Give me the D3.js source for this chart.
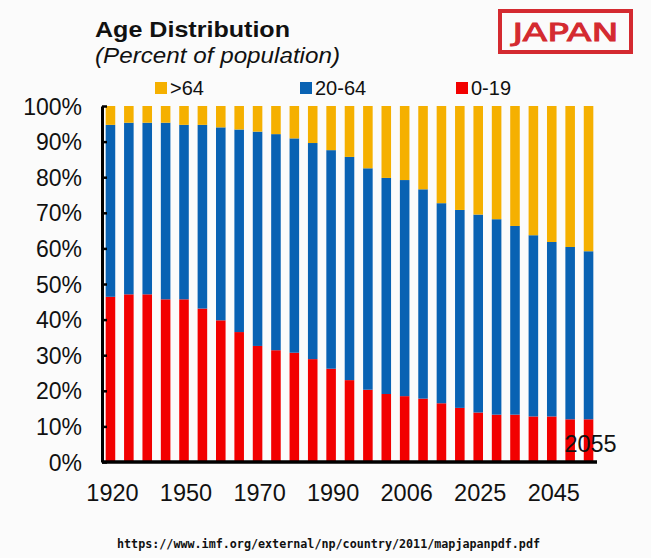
<!DOCTYPE html>
<html>
<head>
<meta charset="utf-8">
<script src="https://cdn.jsdelivr.net/npm/d3@7"></script>
<style>
  html, body { margin: 0; padding: 0; background: #fbfbfb; }
  svg { display: block; }
</style>
</head>
<body>
<svg id="chart" width="651" height="558"></svg>
<script>
// ---- data ----
const years = ["1920","1930","1935","1940","1950","1955","1960","1965","1970","1975","1980","1985","1990","1995","2000","2005","2006","2010","2015","2020","2025","2030","2035","2040","2045","2050","2055"];
const age0_19  = [46.4,47.1,47.1,45.7,45.7,43.1,39.8,36.5,32.6,31.4,30.7,28.9,26.2,23.0,20.3,19.1,18.5,17.8,16.5,15.2,13.9,13.3,13.3,12.8,12.8,12.0,12.0];
const age20_64 = [48.3,48.2,48.2,49.6,49.0,51.6,54.2,56.9,60.2,60.7,60.2,60.7,61.4,62.7,62.2,60.7,60.7,58.8,56.2,55.6,55.6,54.9,53.0,50.9,49.0,48.4,47.2];
const age65up  = [5.3,4.7,4.7,4.7,5.3,5.3,6.0,6.6,7.2,7.9,9.1,10.4,12.4,14.3,17.5,20.2,20.8,23.4,27.3,29.2,30.5,31.8,33.7,36.3,38.2,39.6,40.8];
const seriesKeys = ["0-19","20-64",">64"];
const legendKeys = [">64","20-64","0-19"];
const xTickLabels = ["1920","1950","1970","1990","2006","2025","2045"];
const yTicks = [0,10,20,30,40,50,60,70,80,90,100];
const lastLabel = "2055";
const colors = {"0-19":"#f20000","20-64":"#0962b3",">64":"#f5b000"};

(function(){
const rows = years.map((yr,i)=>({year:yr,"0-19":age0_19[i],"20-64":age20_64[i],">64":age65up[i]}));

const svg = d3.select("#chart");
const W = 651, H = 558;
svg.append("rect").attr("width",W).attr("height",H).attr("fill","#fbfbfb");

const pLeft = 102, pRight = 597, pTop = 106, pBottom = 462;

const x = d3.scaleBand().domain(years).range([pLeft,pRight]).paddingInner(0.48).paddingOuter(0.2);
const y = d3.scaleLinear().domain([0,100]).range([pBottom,pTop]);

const stacked = d3.stack().keys(seriesKeys)(rows);

svg.append("g").selectAll("g").data(stacked).join("g")
  .attr("fill", d=>colors[d.key])
  .selectAll("rect").data(d=>d).join("rect")
  .attr("x", d=>x(d.data.year))
  .attr("width", x.bandwidth())
  .attr("y", d=>y(Math.min(100,d[1])))
  .attr("height", d=>y(d[0]) - y(Math.min(100,d[1])));

// y axis
const yAxis = d3.axisLeft(y).tickValues(yTicks).tickFormat(d=>d+"%")
  .tickSizeInner(-5).tickSizeOuter(0).tickPadding(20);
const gy = svg.append("g").attr("transform",`translate(${pLeft},0)`).call(yAxis);
gy.select(".domain").attr("stroke","#000").attr("stroke-width",3);
gy.selectAll(".tick line").attr("stroke","#000").attr("stroke-width",2.5);
gy.selectAll("text").attr("font-family","'Liberation Sans', Arial, sans-serif")
  .attr("font-size",23).attr("fill","#111").attr("dy","0.35em");

// x axis
const xAxis = d3.axisBottom(x).tickValues(xTickLabels).tickSize(0).tickPadding(22);
const gx = svg.append("g").attr("transform",`translate(0,${pBottom})`).call(xAxis);
gx.select(".domain").attr("stroke","#000").attr("stroke-width",3.5).attr("d",`M${pLeft},0H${pRight}`);
gx.selectAll("text").attr("font-family","'Liberation Sans', Arial, sans-serif")
  .attr("font-size",23.5).attr("fill","#111").attr("dx","2");

// last year label
svg.append("text")
  .attr("x", x(years[years.length-1]) + x.bandwidth()/2 + 2)
  .attr("y", 452)
  .attr("text-anchor","middle")
  .attr("font-family","'Liberation Sans', Arial, sans-serif")
  .attr("font-size",23.5).attr("fill","#111")
  .text(lastLabel);

// legend
const legendX = [155, 300, 456];
const lg = svg.append("g");
legendKeys.forEach((k,i)=>{
  lg.append("rect").attr("x",legendX[i]).attr("y",82).attr("width",12).attr("height",12).attr("fill",colors[k]);
  lg.append("text").attr("x",legendX[i]+15).attr("y",95)
    .attr("font-family","'Liberation Sans', Arial, sans-serif")
    .attr("font-size",20).attr("fill","#111").text(k);
});

// titles
svg.append("text").attr("x",95).attr("y",37)
  .attr("font-family","'Liberation Sans', Arial, sans-serif").attr("font-weight","bold")
  .attr("font-size",22.5).attr("textLength",195).attr("lengthAdjust","spacingAndGlyphs")
  .attr("fill","#111").text("Age Distribution");
svg.append("text").attr("x",95).attr("y",63)
  .attr("font-family","'Liberation Sans', Arial, sans-serif").attr("font-style","italic")
  .attr("font-size",22).attr("textLength",245).attr("lengthAdjust","spacingAndGlyphs")
  .attr("fill","#111").text("(Percent of population)");

// JAPAN box
svg.append("rect").attr("x",500).attr("y",11).attr("width",131).attr("height",41)
  .attr("fill","none").attr("stroke","#d42a30").attr("stroke-width",4);
svg.append("text").attr("x",565.5).attr("y",41).attr("text-anchor","middle")
  .attr("font-family","'DejaVu Sans', sans-serif").attr("font-size",25)
  .attr("textLength",106).attr("lengthAdjust","spacingAndGlyphs")
  .attr("fill","#d42a30").attr("stroke","#d42a30").attr("stroke-width",0.9)
  .text("JAPAN");

// source
svg.append("text").attr("x",117).attr("y",548)
  .attr("font-family","'DejaVu Sans Mono', monospace").attr("font-weight","bold")
  .attr("font-size",11.5).attr("textLength",423).attr("lengthAdjust","spacingAndGlyphs")
  .attr("fill","#111").text("https://www.imf.org/external/np/country/2011/mapjapanpdf.pdf");
})();
</script>
</body>
</html>
